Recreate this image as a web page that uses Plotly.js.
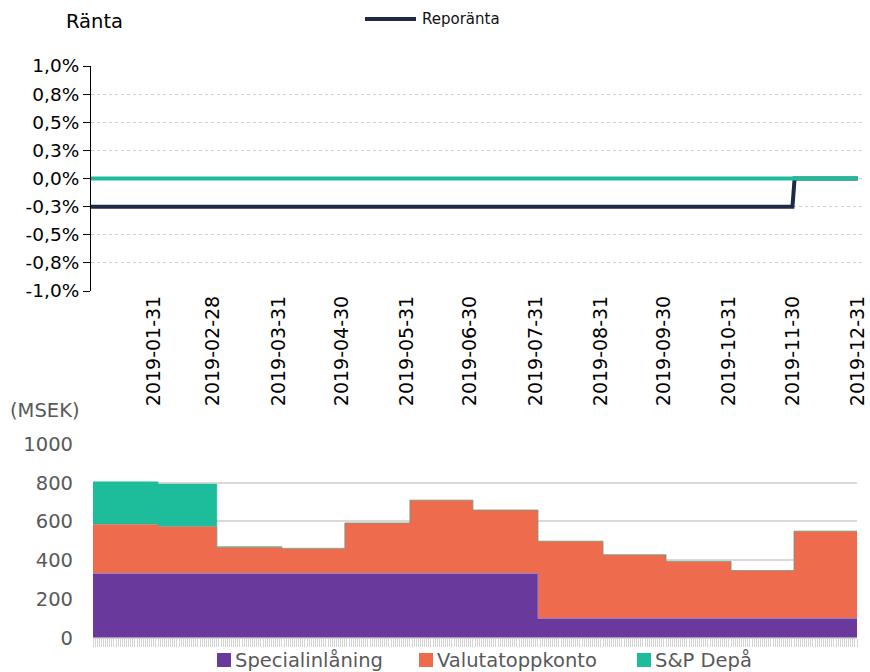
<!DOCTYPE html>
<html>
<head>
<meta charset="utf-8">
<script src="https://cdn.plot.ly/plotly-3.0.1.min.js"></script>
<style>html,body{margin:0;padding:0;background:#fff;}#chart{width:870px;height:672px;}</style>
</head>
<body>
<div id="chart"></div>
<script>
// ---- Data ----
const monthStarts = ['2019-01-01','2019-02-01','2019-03-01','2019-04-01','2019-05-01','2019-06-01',
                     '2019-07-01','2019-08-01','2019-09-01','2019-10-01','2019-11-01','2019-12-01'];
const periodEnd = '2019-12-31';
const specialinlaning = [332, 332, 332, 332, 332, 332, 332, 100, 100, 100, 100, 100];
const valutatoppkonto = [253, 241, 135, 129, 260, 378, 327, 398, 328, 294, 247, 450];
const spDepa          = [220, 220,   3,   0,   0,   0,   0,   0,   0,   0,   0,   0];

const repoDates = ['2019-01-01','2019-11-30','2019-12-01','2019-12-31'];
const reporanta = [-0.25, -0.25, 0, 0];
const spRateDates = ['2019-01-01','2019-12-31'];
const spRate = [0, 0];

const xTickVals = ['2019-01-31','2019-02-28','2019-03-31','2019-04-30','2019-05-31','2019-06-30',
                   '2019-07-31','2019-08-31','2019-09-30','2019-10-31','2019-11-30','2019-12-31'];
const xTickText = ['2019-01-31','2019-02-28','2019-03-31','2019-04-30','2019-05-31','2019-06-30',
                   '2019-07-31','2019-08-31','2019-09-30','2019-10-31','2019-11-30','2019-12-31'];
const yTickVals = [1, 0.75, 0.5, 0.25, 0, -0.25, -0.5, -0.75, -1];
const yTickText = ['1,0%','0,8%','0,5%','0,3%','0,0%','-0,3%','-0,5%','-0,8%','-1,0%'];
const msekTicks = [0, 200, 400, 600, 800, 1000];

// ---- Build ----
const W = 870, H = 672;
const px = v => v / W;
const py = v => 1 - v / H;
const FONT = 'DejaVu Sans, Verdana, sans-serif';

const stepX = monthStarts.concat([periodEnd]);
const ext = arr => arr.concat([arr[arr.length - 1]]);

const colors = {purple: '#6a399c', orange: '#ee6b4e', teal: '#1dbd9c', navy: '#1f2b45'};

const traces = [
  {x: repoDates, y: reporanta, name: 'Reporänta', type: 'scatter', mode: 'lines',
   line: {color: colors.navy, width: 4}, xaxis: 'x', yaxis: 'y', showlegend: false},
  {x: spRateDates, y: spRate, name: 'S&P Depå', type: 'scatter', mode: 'lines',
   line: {color: colors.teal, width: 4}, xaxis: 'x', yaxis: 'y', showlegend: false},
  {x: stepX, y: ext(specialinlaning), name: 'Specialinlåning', type: 'scatter', mode: 'lines',
   stackgroup: 'msek', line: {shape: 'hv', width: 1, color: '#9a80c8'}, fillcolor: colors.purple,
   xaxis: 'x2', yaxis: 'y2', showlegend: false},
  {x: stepX, y: ext(valutatoppkonto), name: 'Valutatoppkonto', type: 'scatter', mode: 'lines',
   stackgroup: 'msek', line: {shape: 'hv', width: 0.5, color: colors.orange}, fillcolor: colors.orange,
   xaxis: 'x2', yaxis: 'y2', showlegend: false},
  {x: stepX, y: ext(spDepa), name: 'S&P Depå', type: 'scatter', mode: 'lines',
   stackgroup: 'msek', line: {shape: 'hv', width: 0.5, color: colors.teal}, fillcolor: colors.teal,
   xaxis: 'x2', yaxis: 'y2', showlegend: false}
];

const legendItems = [
  {name: 'Specialinlåning', color: colors.purple, sx: 217, tx: 233},
  {name: 'Valutatoppkonto', color: colors.orange, sx: 419, tx: 435},
  {name: 'S&P Depå', color: colors.teal, sx: 637, tx: 653}
];

const shapes = [
  {type: 'line', xref: 'paper', yref: 'paper', x0: px(365), x1: px(416), y0: py(19), y1: py(19),
   line: {color: colors.navy, width: 4}}
];
const annotations = [
  {text: 'Ränta', xref: 'paper', yref: 'paper', x: px(64), y: py(21), xanchor: 'left', yanchor: 'middle',
   showarrow: false, font: {family: FONT, size: 19.5, color: '#000'}},
  {text: 'Reporänta', xref: 'paper', yref: 'paper', x: px(420), y: py(19), xanchor: 'left', yanchor: 'middle',
   showarrow: false, font: {family: FONT, size: 15, color: '#111'}},
  {text: '(MSEK)', xref: 'paper', yref: 'paper', x: px(8), y: py(410), xanchor: 'left', yanchor: 'middle',
   showarrow: false, font: {family: FONT, size: 19.5, color: '#595959'}}
];
legendItems.forEach(it => {
  shapes.push({type: 'rect', xref: 'paper', yref: 'paper', x0: px(it.sx), x1: px(it.sx + 14),
    y0: py(667), y1: py(653), fillcolor: it.color, line: {width: 0}});
  annotations.push({text: it.name, xref: 'paper', yref: 'paper', x: px(it.tx), y: py(660),
    xanchor: 'left', yanchor: 'middle', showarrow: false,
    font: {family: FONT, size: 19.5, color: '#595959'}});
});

const layout = {
  width: W, height: H,
  margin: {l: 0, r: 0, t: 0, b: 0},
  paper_bgcolor: '#fff', plot_bgcolor: '#fff',
  font: {family: FONT, color: '#000'},
  showlegend: false,
  xaxis: {
    domain: [px(91), px(862)], anchor: 'y', type: 'date',
    range: ['2019-01-01', '2020-01-02'],
    tickmode: 'array', tickvals: xTickVals, ticktext: xTickText, tickangle: -90,
    tickfont: {family: FONT, size: 19, color: '#000'}, ticklabeloverflow: 'allow',
    showgrid: false, zeroline: false, showline: false, ticks: ''
  },
  yaxis: {
    domain: [py(291), py(66)], anchor: 'x',
    range: [-1, 1], tickmode: 'array', tickvals: yTickVals, ticktext: yTickText,
    tickfont: {family: FONT, size: 18.5, color: '#000'},
    showgrid: true, gridcolor: '#cfcfcf', griddash: 'dot', gridwidth: 1,
    zeroline: false, showline: true, linecolor: '#000', linewidth: 1,
    ticks: 'outside', ticklen: 7, tickcolor: '#000', tickwidth: 1
  },
  xaxis2: {
    domain: [px(93), px(857)], anchor: 'y2', type: 'date',
    range: ['2019-01-01', '2019-12-31'],
    showticklabels: false, showgrid: false, zeroline: false,
    tickmode: 'linear', tick0: '2019-01-01', dtick: 86400000,
    ticks: 'outside', ticklen: 8, tickwidth: 1, tickcolor: '#d4d4d4',
    showline: true, linecolor: '#d4d4d4', linewidth: 1
  },
  yaxis2: {
    domain: [py(637.7), py(444)], anchor: 'x2',
    range: [0, 1000], tickmode: 'array', tickvals: msekTicks,
    tickfont: {family: FONT, size: 19.5, color: '#595959'},
    showgrid: true, gridcolor: '#d9d9d9', gridwidth: 2,
    zeroline: false, showline: false, ticks: '', ticklabelstandoff: 19
  },
  shapes: shapes,
  annotations: annotations
};

Plotly.newPlot('chart', traces, layout, {displayModeBar: false, staticPlot: true});
</script>
</body>
</html>
